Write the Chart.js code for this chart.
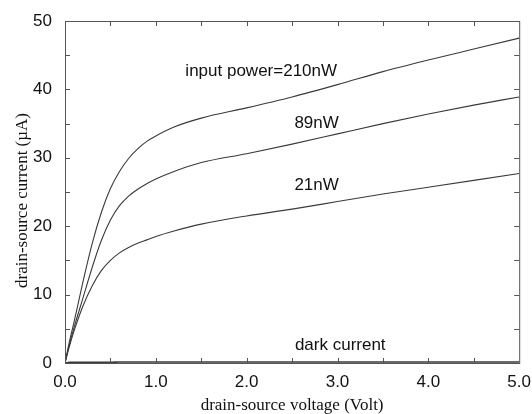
<!DOCTYPE html>
<html>
<head>
<meta charset="utf-8">
<script src="https://cdn.jsdelivr.net/npm/chart.js@4.4.0/dist/chart.umd.min.js"></script>
<style>
  html, body { margin: 0; padding: 0; background: #fff; }
  #wrap { width: 532px; height: 414px; }
</style>
</head>
<body>
<div id="wrap"><canvas id="chart" width="532" height="414"></canvas></div>
<script>
// drain-source voltage (V)
const voltage = [0, 0.05, 0.1, 0.2, 0.3, 0.4, 0.5, 0.6, 0.7, 0.8, 0.9, 1.0, 1.2, 1.5, 2.0, 2.5, 3.0, 3.5, 4.0, 4.5, 5.0];

// drain-source current (uA) for each input power
const current210 = [0, 3.2, 6.0, 12.0, 17.5, 22.0, 25.5, 28.0, 29.9, 31.3, 32.4, 33.2, 34.5, 35.8, 37.3, 38.9, 40.7, 42.6, 44.3, 45.9, 47.5];
const current89  = [0, 2.8, 5.2, 9.6, 14.0, 17.9, 20.9, 23.0, 24.4, 25.4, 26.2, 26.9, 28.0, 29.3, 30.6, 32.0, 33.5, 35.0, 36.4, 37.7, 38.9];
const current21  = [0, 2.5, 4.7, 8.4, 11.3, 13.5, 15.0, 16.1, 16.9, 17.5, 18.0, 18.5, 19.3, 20.3, 21.5, 22.5, 23.6, 24.7, 25.7, 26.7, 27.7];
const currentDark = [0, 0.1, 0.1, 0.1, 0.1, 0.1, 0.1, 0.15, 0.15, 0.15, 0.15, 0.15, 0.15, 0.15, 0.15, 0.15, 0.15, 0.15, 0.15, 0.15, 0.15];

const xTickLabels = ["0.0", "1.0", "2.0", "3.0", "4.0", "5.0"];
const yTickLabels = ["0", "10", "20", "30", "40", "50"];

// curve captions, placed in data units
const captions = [
    { text: "input power=210nW", x: 2.16, y: 42.6 },
    { text: "89nW", x: 2.77, y: 35.0 },
    { text: "21nW", x: 2.77, y: 26.0 },
    { text: "dark current", x: 3.03, y: 2.6 }
];

const toPoints = (ys) => voltage.map((v, i) => ({ x: v, y: ys[i] }));

const lineStyle = {
    borderColor: "#3a3a3a",
    borderWidth: 1.1,
    pointRadius: 0,
    fill: false,
    cubicInterpolationMode: "monotone"
};

const sansFont = { family: "'Liberation Sans', Arial, sans-serif", size: 17 };
const serifFont = { family: "'Liberation Serif', 'Times New Roman', serif", size: 17, lineHeight: 1 };

// frame with inward ticks on all four sides, plus captions
const framePlugin = {
    id: "frame",
    afterDatasetsDraw(chart) {
        const { ctx, chartArea: a, scales } = chart;
        const x = scales.x, y = scales.y;
        ctx.save();
        ctx.strokeStyle = "#555";
        ctx.lineWidth = 1;
        ctx.strokeRect(a.left + 0.5, a.top + 0.5, a.right - a.left, a.bottom - a.top);
        const len = 5;
        ctx.beginPath();
        for (let v = 0.5; v < 5; v += 0.5) {
            const px = Math.round(x.getPixelForValue(v)) + 0.5;
            ctx.moveTo(px, a.bottom); ctx.lineTo(px, a.bottom - len);
            ctx.moveTo(px, a.top); ctx.lineTo(px, a.top + len);
        }
        for (let v = 5; v < 50; v += 5) {
            const py = Math.round(y.getPixelForValue(v)) + 0.5;
            ctx.moveTo(a.left, py); ctx.lineTo(a.left + len, py);
            ctx.moveTo(a.right, py); ctx.lineTo(a.right - len, py);
        }
        ctx.stroke();

        ctx.fillStyle = "#111";
        ctx.font = sansFont.size + "px " + sansFont.family;
        ctx.textAlign = "center";
        ctx.textBaseline = "middle";
        captions.forEach(c => {
            ctx.fillText(c.text, x.getPixelForValue(c.x), y.getPixelForValue(c.y));
        });
        ctx.restore();
    }
};

new Chart(document.getElementById("chart"), {
    type: "line",
    data: {
        datasets: [
            { label: "210nW", data: toPoints(current210), ...lineStyle },
            { label: "89nW", data: toPoints(current89), ...lineStyle },
            { label: "21nW", data: toPoints(current21), ...lineStyle },
            { label: "dark current", data: toPoints(currentDark), ...lineStyle, borderWidth: 1.6 }
        ]
    },
    options: {
        responsive: false,
        animation: false,
        layout: { padding: { left: 0, right: 8, top: 21, bottom: 0 } },
        plugins: {
            legend: { display: false },
            tooltip: { enabled: false }
        },
        scales: {
            x: {
                type: "linear",
                min: 0,
                max: 5,
                grid: { display: false },
                border: { display: false },
                ticks: {
                    stepSize: 1,
                    padding: 1,
                    color: "#111",
                    font: sansFont,
                    maxRotation: 0,
                    callback: (value, i) => xTickLabels[i]
                },
                title: {
                    display: true,
                    text: "drain-source voltage (Volt)",
                    color: "#111",
                    font: serifFont,
                    padding: 0
                },
                afterFit: (s) => { s.height = 51; }
            },
            y: {
                min: 0,
                max: 50,
                grid: { display: false },
                border: { display: false },
                ticks: {
                    stepSize: 10,
                    padding: 5,
                    color: "#111",
                    font: sansFont,
                    callback: (value, i) => yTickLabels[i]
                },
                title: {
                    display: true,
                    // trailing spaces nudge the centred title down a little
                    text: "drain-source current (\u00b5A)    ",
                    color: "#111",
                    font: serifFont,
                    padding: { top: 14, bottom: 0 }
                },
                afterFit: (s) => { s.width = 65; }
            }
        }
    },
    plugins: [framePlugin]
});
</script>
</body>
</html>
